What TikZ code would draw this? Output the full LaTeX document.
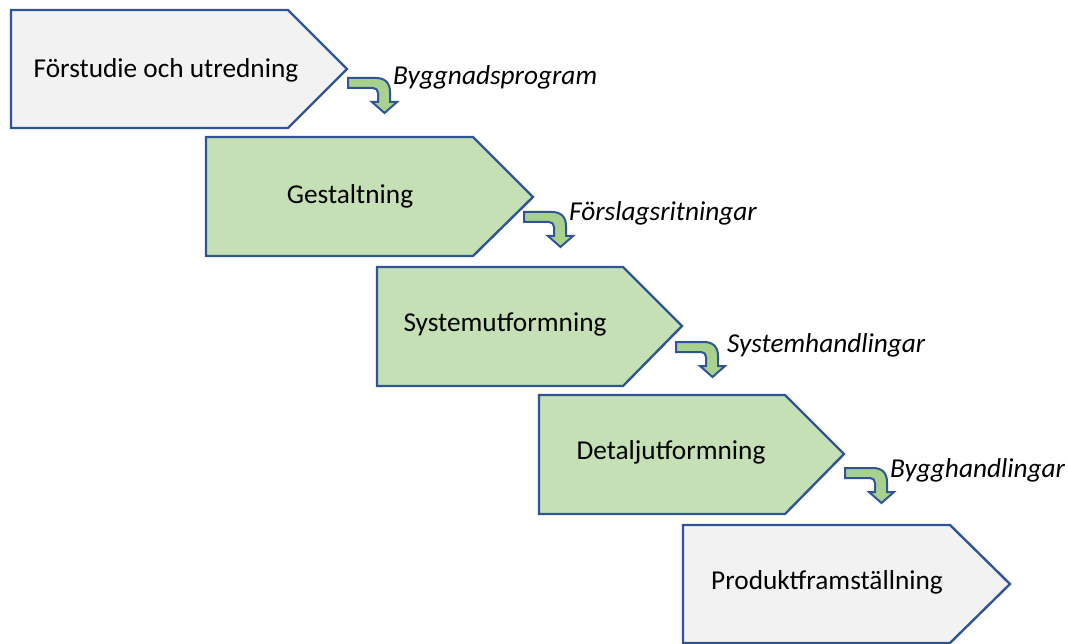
\documentclass[tikz,border=0pt]{standalone}
\usepackage{fontspec}
\setmainfont{Carlito}
\definecolor{bordc}{HTML}{2F5597}
\definecolor{grayf}{HTML}{F2F2F2}
\definecolor{greenf}{HTML}{C5E0B4}
\definecolor{arrowf}{HTML}{A9D18E}
\tikzset{
  box/.style={draw=bordc, line width=2.4pt, line join=miter},
  boxtxt/.style={font=\fontsize{27.3}{31}\selectfont, text=black, inner sep=0pt},
  lbl/.style={font=\fontsize{27.3}{31}\selectfont\itshape, text=black, inner sep=0pt, anchor=west},
  arrowst/.style={draw=bordc, fill=arrowf, line width=2pt, line join=miter},
  bendarrow/.pic={
    \draw[arrowst] (0,0) -- (28,0) .. controls (37,0) and (42,5) .. (42,14) -- (42,24) -- (49,24) -- (36.5,35) -- (24,24) -- (30,24) -- (30,15) .. controls (30,12) and (28,10) .. (25,10) -- (0,10) -- cycle;
  }
}
\begin{document}
\begin{tikzpicture}[x=1pt,y=-1pt]
\useasboundingbox (0,0) rectangle (1068,644);
\begin{scope}
\clip (0,0) rectangle (1068,644);
% boxes
\draw[box, fill=grayf] (11,10) -- (288,10) -- (347,69) -- (288,128) -- (11,128) -- cycle;
\draw[box, fill=greenf] (206,137) -- (473,137) -- (533,197) -- (473,256) -- (206,256) -- cycle;
\draw[box, fill=greenf] (377,267) -- (623,267) -- (682,326) -- (623,386) -- (377,386) -- cycle;
\draw[box, fill=greenf] (539,395) -- (785,395) -- (844,454) -- (785,514) -- (539,514) -- cycle;
\draw[box, fill=grayf] (683,525) -- (950,525) -- (1010,584) -- (950,643) -- (683,643) -- cycle;
\end{scope}
% texts
\node[boxtxt] (b1) at (166,70) {Förstudie och utredning};
\node[boxtxt] (b2) at (350,196) {Gestaltning};
\node[boxtxt] (b3) at (505,324) {Systemutformning};
\node[boxtxt] (b4) at (671,452) {Detaljutformning};
\node[boxtxt] (b5) at (827,582) {Produktframställning};
% bent arrows
\pic at (348,78) {bendarrow};
\pic at (524,212) {bendarrow};
\pic at (676,342) {bendarrow};
\pic at (845,468) {bendarrow};
% labels
\node[lbl] (l1) at (393,77) {Byggnadsprogram};
\node[lbl] (l2) at (569,213) {Förslagsritningar};
\node[lbl] (l3) at (727,345) {Systemhandlingar};
\node[lbl] (l4) at (890,470) {Bygghandlingar};
\end{tikzpicture}
\end{document}
